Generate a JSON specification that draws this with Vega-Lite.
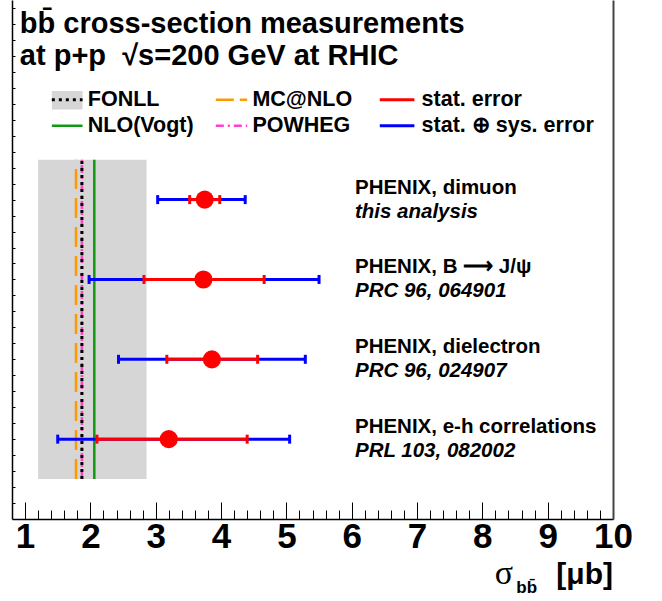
{
  "$schema": "https://vega.github.io/schema/vega-lite/v6.json",
  "width": 601,
  "height": 519,
  "autosize": {"type": "none"},
  "padding": {"left": 12, "top": 0, "right": 49, "bottom": 82},
  "background": "white",
  "config": {"view": {"stroke": null}, "font": "Liberation Sans"},
  "datasets": {
    "meas": [
      {"measurement": "PHENIX, dimuon", "reference": "this analysis", "row": 4, "sigma": 3.75, "stat_lo": 3.52, "stat_hi": 3.98, "tot_lo": 3.03, "tot_hi": 4.37},
      {"measurement": "PHENIX, B \u27f6 J/\u03c8", "reference": "PRC 96, 064901", "row": 3, "sigma": 3.73, "stat_lo": 2.82, "stat_hi": 4.66, "tot_lo": 1.98, "tot_hi": 5.5},
      {"measurement": "PHENIX, dielectron", "reference": "PRC 96, 024907", "row": 2, "sigma": 3.86, "stat_lo": 3.17, "stat_hi": 4.56, "tot_lo": 2.43, "tot_hi": 5.29},
      {"measurement": "PHENIX, e-h correlations", "reference": "PRL 103, 082002", "row": 1, "sigma": 3.2, "stat_lo": 2.1, "stat_hi": 4.4, "tot_lo": 1.5, "tot_hi": 5.05}
    ],
    "theory": [
      {"model": "FONLL", "central": 1.87, "lo": 1.2, "hi": 2.86},
      {"model": "MC@NLO", "central": 1.78},
      {"model": "POWHEG", "central": 1.87},
      {"model": "NLO(Vogt)", "central": 2.06}
    ]
  },
  "resolve": {"axis": {"x": "independent", "y": "independent"}},
  "layer": [
    {
      "data": {"name": "theory"},
      "transform": [{"filter": "datum.model === 'FONLL'"}],
      "mark": {"type": "rect", "color": "#d6d6d6"},
      "encoding": {
        "x": {"field": "lo", "type": "quantitative", "scale": {"domain": [0.8, 10], "nice": false, "zero": false},
          "axis": {"orient": "bottom", "values": [1, 2, 3, 4, 5, 6, 7, 8, 9, 10], "tickSize": -17, "tickColor": "black", "tickWidth": 1, "domainColor": "black", "domainWidth": 1.5, "labelFont": "Liberation Sans", "labelFontWeight": "bold", "labelFontSize": 35, "labelColor": "black", "labelPadding": 17, "labelFlush": false, "labelOverlap": false, "title": null, "grid": false}},
        "x2": {"field": "hi"},
        "y": {"datum": 0.5, "type": "quantitative", "scale": {"domain": [0, 6.5], "nice": false, "zero": false},
          "axis": {"orient": "left", "values": [0.2, 0.4, 0.6, 0.8, 1, 1.2, 1.4, 1.6, 1.8, 2, 2.2, 2.4, 2.6, 2.8, 3, 3.2, 3.4, 3.6, 3.8, 4, 4.2, 4.4, 4.6, 4.8, 5, 5.2, 5.4, 5.6, 5.8, 6, 6.2, 6.4], "tickSize": -3, "tickColor": "black", "labels": false, "title": null, "grid": false, "domainColor": "black", "domainWidth": 1.5}},
        "y2": {"datum": 4.5}
      }
    },
    {
      "data": {"name": "theory"},
      "transform": [{"filter": "datum.model === 'NLO(Vogt)'"}],
      "mark": {"type": "rule", "color": "#129912", "strokeWidth": 2.5},
      "encoding": {
        "x": {"field": "central", "type": "quantitative", "scale": {"domain": [0.8, 10], "nice": false, "zero": false},
          "axis": {"orient": "bottom", "values": [1.2, 1.4, 1.6, 1.8, 2.2, 2.4, 2.6, 2.8, 3.2, 3.4, 3.6, 3.8, 4.2, 4.4, 4.6, 4.8, 5.2, 5.4, 5.6, 5.8, 6.2, 6.4, 6.6, 6.8, 7.2, 7.4, 7.6, 7.8, 8.2, 8.4, 8.6, 8.8, 9.2, 9.4, 9.6, 9.8], "tickSize": -9, "tickColor": "black", "tickWidth": 1, "labels": false, "domain": false, "title": null, "grid": false}},
        "y": {"datum": 0.5, "type": "quantitative", "scale": {"domain": [0, 6.5], "nice": false, "zero": false},
          "axis": {"orient": "right", "ticks": false, "labels": false, "title": null, "grid": false, "domainColor": "#444444", "domainWidth": 2}},
        "y2": {"datum": 4.5}
      }
    },
    {
      "data": {"name": "theory"},
      "transform": [{"filter": "datum.model === 'MC@NLO'"}],
      "mark": {"type": "rule", "color": "#ff9900", "strokeWidth": 2.5, "strokeDash": [20, 9]},
      "encoding": {
        "x": {"field": "central", "type": "quantitative", "scale": {"domain": [0.8, 10], "nice": false, "zero": false}, "axis": null},
        "y": {"datum": 0.5, "type": "quantitative", "scale": {"domain": [0, 6.5], "nice": false, "zero": false}, "axis": null},
        "y2": {"datum": 4.5}
      }
    },
    {
      "data": {"name": "theory"},
      "transform": [{"filter": "datum.model === 'POWHEG'"}],
      "mark": {"type": "rule", "color": "#ff3fcf", "strokeWidth": 2.5, "strokeDash": [8, 4, 2, 4]},
      "encoding": {
        "x": {"field": "central", "type": "quantitative", "scale": {"domain": [0.8, 10], "nice": false, "zero": false}, "axis": null},
        "y": {"datum": 0.5, "type": "quantitative", "scale": {"domain": [0, 6.5], "nice": false, "zero": false}, "axis": null},
        "y2": {"datum": 4.5}
      }
    },
    {
      "data": {"name": "theory"},
      "transform": [{"filter": "datum.model === 'FONLL'"}],
      "mark": {"type": "rule", "color": "black", "strokeWidth": 3, "strokeDash": [3, 4]},
      "encoding": {
        "x": {"field": "central", "type": "quantitative", "scale": {"domain": [0.8, 10], "nice": false, "zero": false}, "axis": null},
        "y": {"datum": 0.5, "type": "quantitative", "scale": {"domain": [0, 6.5], "nice": false, "zero": false}, "axis": null},
        "y2": {"datum": 4.5}
      }
    },
    {
      "data": {"name": "meas"},
      "mark": {"type": "rule", "color": "#0000ff", "strokeWidth": 3},
      "encoding": {
        "x": {"field": "tot_lo", "type": "quantitative", "scale": {"domain": [0.8, 10], "nice": false, "zero": false}, "axis": null},
        "x2": {"field": "tot_hi"},
        "y": {"field": "row", "type": "quantitative", "scale": {"domain": [0, 6.5], "nice": false, "zero": false}, "axis": null}
      }
    },
    {
      "data": {"name": "meas"},
      "transform": [{"fold": ["tot_lo", "tot_hi"], "as": ["end", "edge"]}],
      "mark": {"type": "tick", "orient": "vertical", "color": "#0000ff", "size": 9, "thickness": 3, "opacity": 1},
      "encoding": {
        "x": {"field": "edge", "type": "quantitative", "scale": {"domain": [0.8, 10], "nice": false, "zero": false}, "axis": null},
        "y": {"field": "row", "type": "quantitative", "scale": {"domain": [0, 6.5], "nice": false, "zero": false}, "axis": null}
      }
    },
    {
      "data": {"name": "meas"},
      "mark": {"type": "rule", "color": "#ff0000", "strokeWidth": 3},
      "encoding": {
        "x": {"field": "stat_lo", "type": "quantitative", "scale": {"domain": [0.8, 10], "nice": false, "zero": false}, "axis": null},
        "x2": {"field": "stat_hi"},
        "y": {"field": "row", "type": "quantitative", "scale": {"domain": [0, 6.5], "nice": false, "zero": false}, "axis": null}
      }
    },
    {
      "data": {"name": "meas"},
      "transform": [{"fold": ["stat_lo", "stat_hi"], "as": ["end", "edge"]}],
      "mark": {"type": "tick", "orient": "vertical", "color": "#ff0000", "size": 9, "thickness": 3, "opacity": 1},
      "encoding": {
        "x": {"field": "edge", "type": "quantitative", "scale": {"domain": [0.8, 10], "nice": false, "zero": false}, "axis": null},
        "y": {"field": "row", "type": "quantitative", "scale": {"domain": [0, 6.5], "nice": false, "zero": false}, "axis": null}
      }
    },
    {
      "data": {"name": "meas"},
      "mark": {"type": "circle", "color": "#ff0000", "size": 330, "opacity": 1},
      "encoding": {
        "x": {"field": "sigma", "type": "quantitative", "scale": {"domain": [0.8, 10], "nice": false, "zero": false}, "axis": null},
        "y": {"field": "row", "type": "quantitative", "scale": {"domain": [0, 6.5], "nice": false, "zero": false}, "axis": null}
      }
    },
    {
      "data": {"name": "meas"},
      "mark": {"type": "text", "align": "left", "baseline": "middle", "dy": -12, "fontSize": 20.5, "fontWeight": "bold", "color": "black"},
      "encoding": {
        "x": {"datum": 6.05, "type": "quantitative", "scale": {"domain": [0.8, 10], "nice": false, "zero": false}, "axis": null},
        "y": {"field": "row", "type": "quantitative", "scale": {"domain": [0, 6.5], "nice": false, "zero": false}, "axis": null},
        "text": {"field": "measurement"}
      }
    },
    {
      "data": {"name": "meas"},
      "mark": {"type": "text", "align": "left", "baseline": "middle", "dy": 12, "fontSize": 20.5, "fontWeight": "bold", "fontStyle": "italic", "color": "black"},
      "encoding": {
        "x": {"datum": 6.05, "type": "quantitative", "scale": {"domain": [0.8, 10], "nice": false, "zero": false}, "axis": null},
        "y": {"field": "row", "type": "quantitative", "scale": {"domain": [0, 6.5], "nice": false, "zero": false}, "axis": null},
        "text": {"field": "reference"}
      }
    },
    {
      "data": {"values": [{"line": "bb\u0304 cross-section measurements", "x": 0.92, "y": 6.09}, {"line": "at p+p \u00a0\u221as=200 GeV at RHIC", "x": 0.92, "y": 5.69}]},
      "mark": {"type": "text", "align": "left", "baseline": "alphabetic", "fontSize": 29, "fontWeight": "bold", "color": "black"},
      "encoding": {
        "x": {"field": "x", "type": "quantitative", "scale": {"domain": [0.8, 10], "nice": false, "zero": false}, "axis": null},
        "y": {"field": "y", "type": "quantitative", "scale": {"domain": [0, 6.5], "nice": false, "zero": false}, "axis": null},
        "text": {"field": "line"}
      }
    },
    {
      "data": {"values": [{"item": "FONLL"}]},
      "mark": {"type": "rect", "color": "#d6d6d6"},
      "encoding": {
        "x": {"datum": 1.41, "type": "quantitative", "scale": {"domain": [0.8, 10], "nice": false, "zero": false}, "axis": null},
        "x2": {"datum": 1.88},
        "y": {"datum": 5.13, "type": "quantitative", "scale": {"domain": [0, 6.5], "nice": false, "zero": false}, "axis": null},
        "y2": {"datum": 5.36}
      }
    },
    {
      "data": {"values": [{"item": "FONLL", "x": 1.41, "x2": 1.88, "y": 5.25}]},
      "mark": {"type": "rule", "color": "black", "strokeWidth": 3, "strokeDash": [3, 4]},
      "encoding": {
        "x": {"field": "x", "type": "quantitative", "scale": {"domain": [0.8, 10], "nice": false, "zero": false}, "axis": null},
        "x2": {"field": "x2"},
        "y": {"field": "y", "type": "quantitative", "scale": {"domain": [0, 6.5], "nice": false, "zero": false}, "axis": null}
      }
    },
    {
      "data": {"values": [{"item": "NLO(Vogt)", "x": 1.41, "x2": 1.88, "y": 4.925}]},
      "mark": {"type": "rule", "color": "#129912", "strokeWidth": 2.5},
      "encoding": {
        "x": {"field": "x", "type": "quantitative", "scale": {"domain": [0.8, 10], "nice": false, "zero": false}, "axis": null},
        "x2": {"field": "x2"},
        "y": {"field": "y", "type": "quantitative", "scale": {"domain": [0, 6.5], "nice": false, "zero": false}, "axis": null}
      }
    },
    {
      "data": {"values": [{"item": "MC@NLO", "x": 3.92, "x2": 4.4, "y": 5.25}]},
      "mark": {"type": "rule", "color": "#ff9900", "strokeWidth": 2.5, "strokeDash": [18, 6]},
      "encoding": {
        "x": {"field": "x", "type": "quantitative", "scale": {"domain": [0.8, 10], "nice": false, "zero": false}, "axis": null},
        "x2": {"field": "x2"},
        "y": {"field": "y", "type": "quantitative", "scale": {"domain": [0, 6.5], "nice": false, "zero": false}, "axis": null}
      }
    },
    {
      "data": {"values": [{"item": "POWHEG", "x": 3.92, "x2": 4.4, "y": 4.925}]},
      "mark": {"type": "rule", "color": "#ff3fcf", "strokeWidth": 2.5, "strokeDash": [8, 4, 2, 4]},
      "encoding": {
        "x": {"field": "x", "type": "quantitative", "scale": {"domain": [0.8, 10], "nice": false, "zero": false}, "axis": null},
        "x2": {"field": "x2"},
        "y": {"field": "y", "type": "quantitative", "scale": {"domain": [0, 6.5], "nice": false, "zero": false}, "axis": null}
      }
    },
    {
      "data": {"values": [{"item": "stat. error", "x": 6.43, "x2": 6.96, "y": 5.25}]},
      "mark": {"type": "rule", "color": "#ff0000", "strokeWidth": 3},
      "encoding": {
        "x": {"field": "x", "type": "quantitative", "scale": {"domain": [0.8, 10], "nice": false, "zero": false}, "axis": null},
        "x2": {"field": "x2"},
        "y": {"field": "y", "type": "quantitative", "scale": {"domain": [0, 6.5], "nice": false, "zero": false}, "axis": null}
      }
    },
    {
      "data": {"values": [{"item": "stat. sys. error", "x": 6.43, "x2": 6.96, "y": 4.925}]},
      "mark": {"type": "rule", "color": "#0000ff", "strokeWidth": 3},
      "encoding": {
        "x": {"field": "x", "type": "quantitative", "scale": {"domain": [0.8, 10], "nice": false, "zero": false}, "axis": null},
        "x2": {"field": "x2"},
        "y": {"field": "y", "type": "quantitative", "scale": {"domain": [0, 6.5], "nice": false, "zero": false}, "axis": null}
      }
    },
    {
      "data": {"values": [
        {"label": "FONLL", "x": 1.96, "y": 5.25},
        {"label": "NLO(Vogt)", "x": 1.96, "y": 4.925},
        {"label": "MC@NLO", "x": 4.48, "y": 5.25},
        {"label": "POWHEG", "x": 4.48, "y": 4.925},
        {"label": "stat. error", "x": 7.07, "y": 5.25},
        {"label": "stat. \u2295 sys. error", "x": 7.07, "y": 4.925}
      ]},
      "mark": {"type": "text", "align": "left", "baseline": "middle", "fontSize": 21.5, "fontWeight": "bold", "color": "black"},
      "encoding": {
        "x": {"field": "x", "type": "quantitative", "scale": {"domain": [0.8, 10], "nice": false, "zero": false}, "axis": null},
        "y": {"field": "y", "type": "quantitative", "scale": {"domain": [0, 6.5], "nice": false, "zero": false}, "axis": null},
        "text": {"field": "label"}
      }
    },
    {
      "data": {"values": [{"part": "\u03c3", "x": 8.19, "y": -0.81}]},
      "mark": {"type": "text", "align": "left", "baseline": "alphabetic", "font": "Liberation Serif", "fontSize": 34, "color": "black"},
      "encoding": {
        "x": {"field": "x", "type": "quantitative", "scale": {"domain": [0.8, 10], "nice": false, "zero": false}, "axis": null},
        "y": {"field": "y", "type": "quantitative", "scale": {"domain": [0, 6.5], "nice": false, "zero": false}, "axis": null},
        "text": {"field": "part"}
      }
    },
    {
      "data": {"values": [{"part": "bb\u0304", "x": 8.52, "y": -0.93}]},
      "mark": {"type": "text", "align": "left", "baseline": "alphabetic", "fontSize": 17, "fontWeight": "bold", "color": "black"},
      "encoding": {
        "x": {"field": "x", "type": "quantitative", "scale": {"domain": [0.8, 10], "nice": false, "zero": false}, "axis": null},
        "y": {"field": "y", "type": "quantitative", "scale": {"domain": [0, 6.5], "nice": false, "zero": false}, "axis": null},
        "text": {"field": "part"}
      }
    },
    {
      "data": {"values": [{"part": "[\u03bcb]", "x": 10.0, "y": -0.81}]},
      "mark": {"type": "text", "align": "right", "baseline": "alphabetic", "fontSize": 30, "fontWeight": "bold", "color": "black"},
      "encoding": {
        "x": {"field": "x", "type": "quantitative", "scale": {"domain": [0.8, 10], "nice": false, "zero": false}, "axis": null},
        "y": {"field": "y", "type": "quantitative", "scale": {"domain": [0, 6.5], "nice": false, "zero": false}, "axis": null},
        "text": {"field": "part"}
      }
    }
  ]
}
